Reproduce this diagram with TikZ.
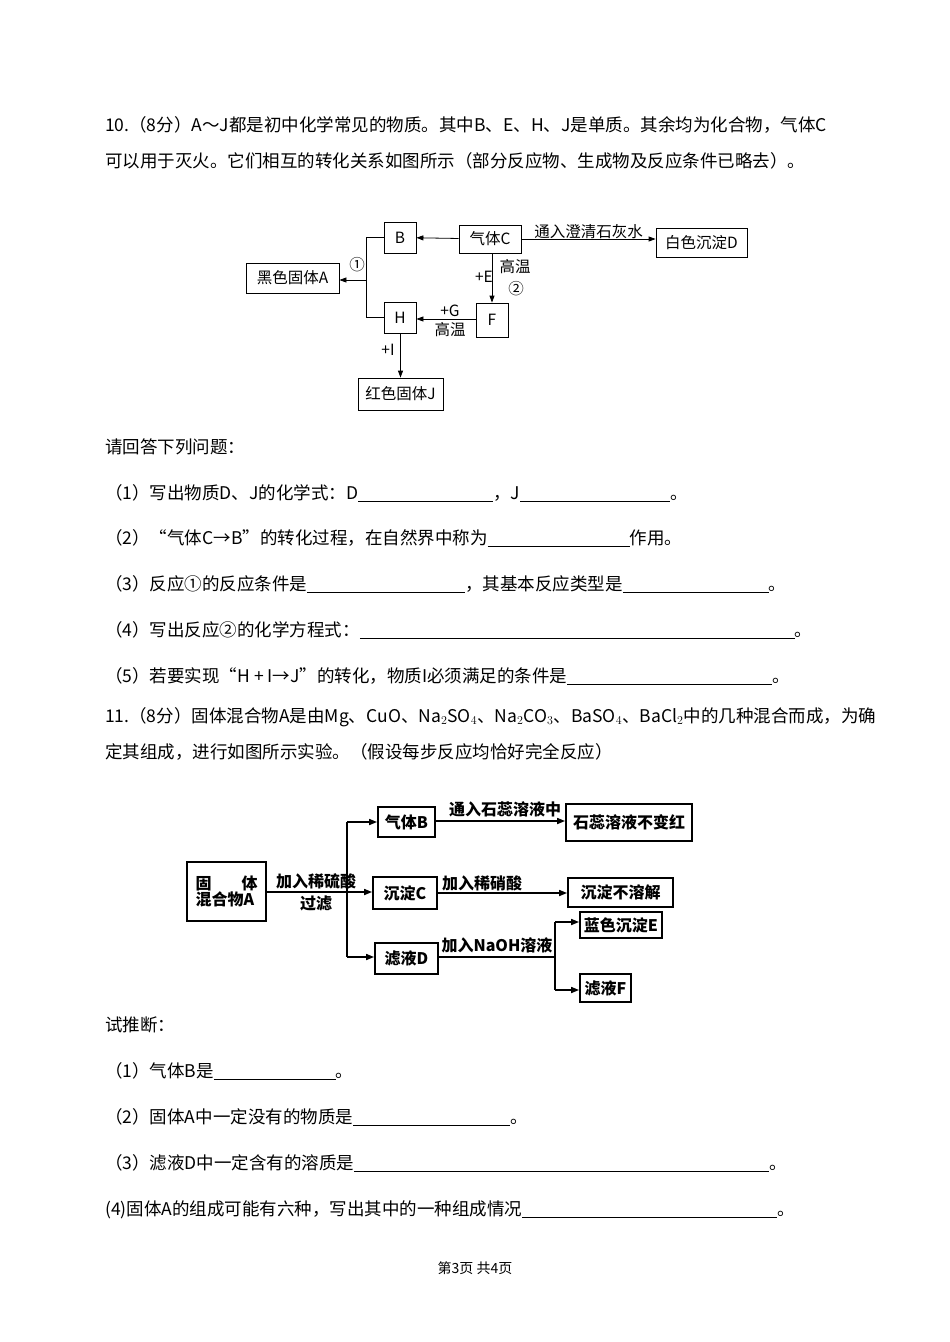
\documentclass[tikz,border=0pt]{standalone}
\usepackage{fontspec}
\setmainfont{Noto Sans CJK SC}
\usetikzlibrary{arrows.meta}
\newcommand{\blk}[1]{\rule[-3pt]{#1pt}{0.6pt}}
\begin{document}
\begin{tikzpicture}[x=1pt,y=-1pt,
  tl/.style={anchor=base west,inner sep=0pt,font=\fontsize{17.5}{17.5}\selectfont},
  bx/.style={draw,line width=0.8pt,inner sep=0pt,font=\fontsize{15.5}{15.5}\selectfont},
  bb/.style={draw,line width=1.8pt,inner sep=0pt,font=\fontsize{16}{16}\selectfont\bfseries},
  ar/.style={line width=0.8pt,-{Triangle[length=7pt,width=5pt]}},
  br/.style={line width=1.6pt,-{Triangle[length=8pt,width=6pt]}},
  lb/.style={inner sep=1pt,font=\fontsize{15.5}{15.5}\selectfont},
  lbb/.style={inner sep=1pt,font=\fontsize{16}{16}\selectfont\bfseries}]
\useasboundingbox[fill=white] (0,0) rectangle (950,1342);
% text
\node[tl] (t1) at (105,131) {10.（8分）A～J都是初中化学常见的物质。其中B、E、H、J是单质。其余均为化合物，气体C};
\node[tl] (t2) at (105,167) {可以用于灭火。它们相互的转化关系如图所示（部分反应物、生成物及反应条件已略去）。};
\node[tl] (t3) at (105,453) {请回答下列问题：};
\node[tl] (t4) at (105,499) {（1）写出物质D、J的化学式：D\blk{135}，J\blk{150}。};
\node[tl] (t5) at (105,544) {（2）“气体C→B”的转化过程，在自然界中称为\blk{142}作用。};
\node[tl] (t6) at (105,590) {（3）反应①的反应条件是\blk{158}，其基本反应类型是\blk{146}。};
\node[tl] (t7) at (105,636) {（4）写出反应②的化学方程式：\blk{435}。};
\node[tl] (t8) at (105,682) {（5）若要实现“H + I→J”的转化，物质I必须满足的条件是\blk{205}。};
\node[tl] (t9) at (105,722) {11.（8分）固体混合物A是由Mg、CuO、Na$_2$SO$_4$、Na$_2$CO$_3$、BaSO$_4$、BaCl$_2$中的几种混合而成，为确};
\node[tl] (t10) at (105,758) {定其组成，进行如图所示实验。（假设每步反应均恰好完全反应）};
\node[tl] (t11) at (105,1031) {试推断：};
\node[tl] (t12) at (105,1077) {（1）气体B是\blk{122}。};
\node[tl] (t13) at (105,1123) {（2）固体A中一定没有的物质是\blk{157}。};
\node[tl] (t14) at (105,1169) {（3）滤液D中一定含有的溶质是\blk{415}。};
\node[tl] (t15) at (105,1215) {(4)固体A的组成可能有六种，写出其中的一种组成情况\blk{255}。};
\node[inner sep=0pt,font=\fontsize{14}{14}\selectfont] (ft) at (475,1268) {第3页 共4页};
% diagram 1
\node[bx,minimum width=32pt,minimum height=31pt] (B) at (400,237.5) {B};
\node[bx,minimum width=62pt,minimum height=28pt] (C) at (490,239) {气体C};
\node[bx,minimum width=91pt,minimum height=29pt] (D) at (701.5,242.5) {白色沉淀D};
\node[bx,minimum width=93pt,minimum height=30pt] (A) at (292.5,278) {黑色固体A};
\node[bx,minimum width=32pt,minimum height=31pt] (H) at (400,317.5) {H};
\node[bx,minimum width=32pt,minimum height=34pt] (F) at (492,320) {F};
\node[bx,minimum width=85pt,minimum height=32pt] (J) at (400.5,394) {红色固体J};
\coordinate (j1) at (366,237.5);
\coordinate (j2) at (366,317.5);
\coordinate (ja) at (366,280);
\draw[line width=0.8pt] (B.west) -- (j1) -- (j2) -- (H.west);
\draw[ar] (ja) -- (A.east |- ja);
\node[lb] (c1) at (357,265) {①};
\draw[ar] (C) -- (B);
\draw[ar] (C.east) -- (D.west |- C.east) node[lb,midway,above=-1pt] {通入澄清石灰水};
\draw[ar] (C.south -| F) -- (F.north);
\node[lb] (lE) at (484,277) {+E};
\node[lb] (lgw) at (515,267) {高温};
\node[lb] (c2) at (516,289) {②};
\draw[ar] (F.west |- 0,319) -- (H.east |- 0,319);
\node[lb] (lG) at (450,311) {+G};
\node[lb] (lgw2) at (450,330) {高温};
\draw[ar] (H.south -| J) -- (J.north);
\node[lb] (lI) at (388,350) {+I};
% diagram 2
\node[bb,minimum width=79pt,minimum height=59pt,align=left] (A2) at (226.5,891.5) {\makebox[62pt][s]{固\hfill 体}\\混合物A};
\node[bb,minimum width=57pt,minimum height=30pt] (B2) at (406.5,822) {气体B};
\node[bb,minimum width=64pt,minimum height=32pt] (C2) at (405,893) {沉淀C};
\node[bb,minimum width=63pt,minimum height=31pt] (D2) at (406.5,958.5) {滤液D};
\node[bb,minimum width=126pt,minimum height=37pt] (S2) at (629,822.5) {石蕊溶液不变红};
\node[bb,minimum width=105pt,minimum height=29pt] (N2) at (620.5,892.5) {沉淀不溶解};
\node[bb,minimum width=82pt,minimum height=26pt] (E2) at (621,925) {蓝色沉淀E};
\node[bb,minimum width=51pt,minimum height=28pt] (F2) at (605.5,988) {滤液F};
\coordinate (k) at (347,892);
\draw[br] (A2.east |- k) -- (C2.west |- k);
\draw[line width=1.6pt] (347,822) -- (347,957);
\draw[br] (347,822) -- (B2.west |- 0,822);
\draw[br] (347,957) -- (D2.west |- 0,957);
\node[lbb] (l1) at (316,881) {加入稀硫酸};
\node[lbb] (l2) at (316,904) {过滤};
\draw[br] (B2.east |- 0,821) -- (S2.west |- 0,821);
\node[lbb] (l3) at (505,809) {通入石蕊溶液中};
\draw[br] (C2.east |- 0,893) -- (N2.west |- 0,893);
\node[lbb] (l4) at (482,883) {加入稀硝酸};
\draw[line width=1.6pt] (D2.east |- 0,957) -- (555,957);
\draw[line width=1.6pt] (555,922) -- (555,990);
\draw[br] (555,922) -- (E2.west |- 0,922);
\draw[br] (555,990) -- (F2.west |- 0,990);
\node[lbb] (l5) at (497,945) {加入NaOH溶液};
\end{tikzpicture}
\end{document}
